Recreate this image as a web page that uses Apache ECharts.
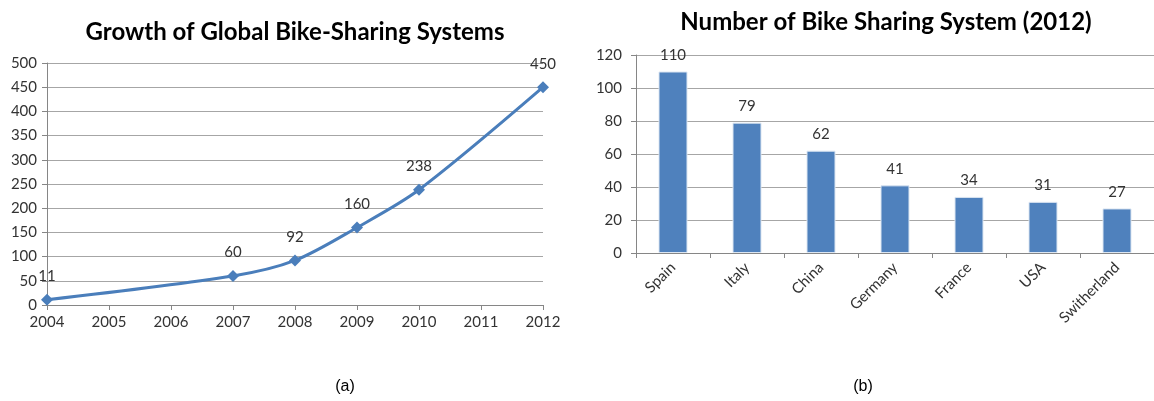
<!DOCTYPE html>
<html>
<head>
<meta charset="utf-8">
<script src="https://cdn.jsdelivr.net/npm/echarts@6/dist/echarts.min.js"></script>
<style>
  html, body { margin: 0; padding: 0; background: #fff; }
  #chart { width: 1154px; height: 401px; }
</style>
</head>
<body>
<div id="chart"></div>
<script>
// (a) growth of global bike-sharing systems
const growthYears = [2004, 2007, 2008, 2009, 2010, 2012]
const growthValues = [11, 60, 92, 160, 238, 450]

// (b) number of systems per country, 2012
const countries = ['Spain', 'Italy', 'China', 'Germany', 'France', 'USA', 'Switherland']
const countryValues = [110, 79, 62, 41, 34, 31, 27]

const font = 'Lato, "Open Sans", sans-serif'
const blue = '#4a7ebb'
const gridColor = '#a6a6a6'
const axisColor = '#868686'
const textColor = '#333'

const chart = echarts.init(document.getElementById('chart'))

chart.setOption({
  animation: false,
  title: [
    {
      text: 'Growth of Global Bike-Sharing Systems',
      left: 290, top: 15, textAlign: 'center',
      textStyle: { fontFamily: font, fontSize: 24, fontWeight: 'bold', color: '#000' }
    },
    {
      text: 'Number of Bike Sharing System (2012)',
      left: 881, top: 5, textAlign: 'center',
      textStyle: { fontFamily: font, fontSize: 24, fontWeight: 'bold', color: '#000' }
    },
    {
      text: '(a)',
      left: 340, top: 374, textAlign: 'center',
      textStyle: { fontFamily: '"Liberation Sans", Arial, sans-serif', fontSize: 16, fontWeight: 'normal', color: '#000' }
    },
    {
      text: '(b)',
      left: 858, top: 374, textAlign: 'center',
      textStyle: { fontFamily: '"Liberation Sans", Arial, sans-serif', fontSize: 16, fontWeight: 'normal', color: '#000' }
    }
  ],
  grid: [
    { left: 47, right: 611, top: 63, bottom: 96 },
    { left: 636, right: -6, top: 55, bottom: 148 }
  ],
  xAxis: [
    {
      type: 'value', gridIndex: 0,
      min: 2004, max: 2012, interval: 1,
      axisLine: { lineStyle: { color: axisColor } },
      axisTick: { show: true, length: 5, lineStyle: { color: axisColor } },
      splitLine: { show: false },
      axisLabel: { fontFamily: font, fontSize: 15, color: textColor, margin: 10, formatter: v => String(v) }
    },
    {
      type: 'category', gridIndex: 1,
      data: countries,
      axisLine: { lineStyle: { color: axisColor } },
      axisTick: { show: true, length: 5, lineStyle: { color: axisColor } },
      axisLabel: { fontFamily: font, fontSize: 15, color: textColor, rotate: 45, margin: 12, interval: 0 }
    }
  ],
  yAxis: [
    {
      type: 'value', gridIndex: 0,
      min: 0, max: 500, interval: 50,
      axisLine: { show: true, lineStyle: { color: axisColor } },
      axisTick: { show: true, length: 5, lineStyle: { color: axisColor } },
      splitLine: { lineStyle: { color: gridColor } },
      axisLabel: { fontFamily: font, fontSize: 15, color: textColor, margin: 10 }
    },
    {
      type: 'value', gridIndex: 1,
      min: 0, max: 120, interval: 20,
      axisLine: { show: true, lineStyle: { color: axisColor } },
      axisTick: { show: true, length: 5, lineStyle: { color: axisColor } },
      splitLine: { lineStyle: { color: gridColor } },
      axisLabel: { fontFamily: font, fontSize: 15, color: textColor, margin: 14 }
    }
  ],
  series: [
    {
      type: 'line',
      xAxisIndex: 0, yAxisIndex: 0,
      data: growthYears.map((y, i) => [y, growthValues[i]]),
      smooth: 0.3,
      symbol: 'diamond',
      symbolSize: 12,
      lineStyle: { color: blue, width: 3 },
      itemStyle: { color: blue },
      label: {
        show: true, position: 'top', distance: 10,
        fontFamily: font, fontSize: 15, color: textColor
      }
    },
    {
      type: 'bar',
      xAxisIndex: 1, yAxisIndex: 1,
      data: countryValues,
      barWidth: 29,
      itemStyle: { color: '#4f81bd', borderColor: '#dce6f2', borderWidth: 1 },
      label: {
        show: true, position: 'top', distance: 9,
        fontFamily: font, fontSize: 15, color: textColor
      }
    }
  ]
})
</script>
</body>
</html>
